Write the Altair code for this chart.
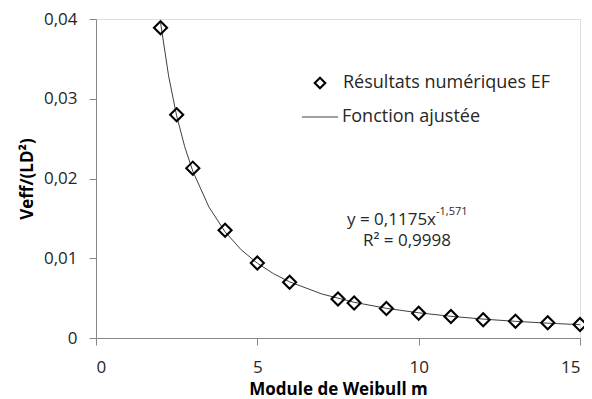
import altair as alt
import pandas as pd

# Numerical results (diamonds)
m_vals = [2, 2.5, 3, 4, 5, 6, 7.5, 8, 9, 10, 11, 12, 13, 14, 15]
veff_vals = [0.0389, 0.0280, 0.0213, 0.0135, 0.0094, 0.0070, 0.0049, 0.0044,
             0.0037, 0.0031, 0.0027, 0.0023, 0.0021, 0.0019, 0.0017]

# Fitted curve points
fit_m = [2, 2.25, 2.5, 2.75, 3, 3.5, 4, 4.5, 5, 5.5, 6, 7, 8, 9, 10, 11, 12, 13, 14, 15]
fit_v = [0.03955, 0.03287, 0.02785, 0.02398, 0.02092, 0.01642, 0.01331, 0.01106,
         0.00938, 0.00807, 0.00704, 0.00552, 0.00448, 0.00372, 0.00316, 0.00272,
         0.00237, 0.00209, 0.00186, 0.00167]

pts = pd.DataFrame({"m": m_vals, "v": veff_vals})
fit = pd.DataFrame({"m": fit_m, "v": fit_v})

FONT = "Open Sans"
TXT = "#262626"
FS = 17

xs = alt.Scale(domain=[0, 15], nice=False, zero=False)
ys = alt.Scale(domain=[0, 0.04], nice=False)

xax = alt.Axis(values=[0, 5, 10, 15], title="Module de Weibull m", grid=False,
               labelFont=FONT, titleFont=FONT,
               labelFontSize=FS, titleFontSize=FS, titleFontWeight="bold",
               labelPadding=14, titlePadding=6, tickSize=7,
               labelColor=TXT, titleColor="black",
               domainColor="#888888", tickColor="#888888")
yax = alt.Axis(values=[0, 0.01, 0.02, 0.03, 0.04], title="Veff/(LD²)", grid=False,
               labelExpr="datum.value == 0 ? '0' : replace(format(datum.value, '.2f'), '.', ',')",
               labelFont=FONT, titleFont=FONT,
               labelFontSize=FS, titleFontSize=FS, titleFontWeight="bold",
               labelPadding=12, titlePadding=7, tickSize=7,
               labelColor=TXT, titleColor="black",
               domainColor="#888888", tickColor="#888888")

line = alt.Chart(fit).mark_line(color="#404040", strokeWidth=1).encode(
    x=alt.X("m:Q", scale=xs, axis=xax),
    y=alt.Y("v:Q", scale=ys, axis=yax),
)

points = alt.Chart(pts).mark_point(shape="diamond", filled=False, color="black",
                                   size=170, strokeWidth=2.1, opacity=1).encode(
    x=alt.X("m:Q", scale=xs),
    y=alt.Y("v:Q", scale=ys),
)

# Legend (annotation)
one = pts.head(1)
leg_pt = alt.Chart(one).mark_point(shape="diamond", filled=False, color="black",
                                   size=110, strokeWidth=2.1, opacity=1).encode(
    x=alt.value(224), y=alt.value(64))
leg_rule = alt.Chart(one).mark_rule(color="#404040", strokeWidth=1).encode(
    x=alt.value(206), x2=alt.value(242), y=alt.value(98))
leg_t1 = alt.Chart(one).mark_text(text="Résultats numériques EF", align="left",
                                  baseline="middle", font=FONT, fontSize=18,
                                  color=TXT).encode(x=alt.value(247), y=alt.value(64))
leg_t2 = alt.Chart(one).mark_text(text="Fonction ajustée", align="left",
                                  baseline="middle", font=FONT, fontSize=18,
                                  color=TXT).encode(x=alt.value(246), y=alt.value(98))

# Equation annotation
eq1 = alt.Chart(one).mark_text(text="y = 0,1175x", align="right", baseline="middle",
                               font=FONT, fontSize=FS, color=TXT).encode(
    x=alt.value(340), y=alt.value(201))
eq1s = alt.Chart(one).mark_text(text="-1,571", align="left", baseline="middle",
                                font=FONT, fontSize=11, color=TXT).encode(
    x=alt.value(340), y=alt.value(193))
eq2 = alt.Chart(one).mark_text(text="R² = 0,9998", align="center", baseline="middle",
                               font=FONT, fontSize=FS, color=TXT).encode(
    x=alt.value(311), y=alt.value(222))

chart = alt.layer(line, points, leg_pt, leg_rule, leg_t1, leg_t2, eq1, eq1s, eq2).properties(
    width=484, height=319,
    autosize=alt.AutoSizeParams(type="none"),
    padding={"left": 88, "top": 11, "right": 4, "bottom": 60},
).configure_view(stroke=None).configure(background="white")

chart.save("out.html", embed_options={"renderer": "svg", "actions": False})
